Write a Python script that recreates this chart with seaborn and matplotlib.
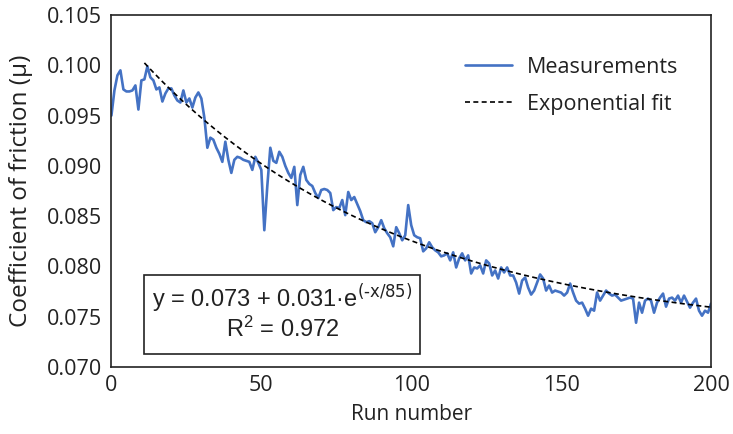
import numpy as np
import pandas as pd
import matplotlib
matplotlib.use("Agg")
import matplotlib.pyplot as plt
from matplotlib.patches import Rectangle
import seaborn as sns

# Friction coefficient measured on each run (run 0 .. 200)
friction = [
    0.0950, 0.0975, 0.0990, 0.0995, 0.0976, 0.0974, 0.0974, 0.0975, 0.0980, 0.0956,
    0.0985, 0.0986, 0.0999, 0.0988, 0.0985, 0.0976, 0.0978, 0.0964, 0.0972, 0.0977,
    0.0977, 0.0970, 0.0965, 0.0963, 0.0975, 0.0963, 0.0967, 0.0958, 0.0968, 0.0973,
    0.0967, 0.0948, 0.0918, 0.0928, 0.0926, 0.0918, 0.0912, 0.0904, 0.0924, 0.0906,
    0.0893, 0.0906, 0.0909, 0.0908, 0.0906, 0.0905, 0.0904, 0.0896, 0.0909, 0.0903,
    0.0896, 0.0836, 0.0880, 0.0918, 0.0905, 0.0903, 0.0914, 0.0909, 0.0900, 0.0893,
    0.0888, 0.0899, 0.0861, 0.0891, 0.0899, 0.0886, 0.0882, 0.0880, 0.0873, 0.0868,
    0.0876, 0.0877, 0.0876, 0.0873, 0.0856, 0.0859, 0.0858, 0.0866, 0.0851, 0.0874,
    0.0866, 0.0869, 0.0862, 0.0855, 0.0846, 0.0844, 0.0845, 0.0843, 0.0834, 0.0839,
    0.0846, 0.0838, 0.0833, 0.0829, 0.0820, 0.0839, 0.0833, 0.0826, 0.0831, 0.0861,
    0.0841, 0.0831, 0.0829, 0.0828, 0.0815, 0.0818, 0.0824, 0.0819, 0.0816, 0.0814,
    0.0810, 0.0811, 0.0813, 0.0806, 0.0814, 0.0799, 0.0808, 0.0813, 0.0806, 0.0811,
    0.0793, 0.0799, 0.0798, 0.0801, 0.0793, 0.0806, 0.0803, 0.0791, 0.0796, 0.0788,
    0.0799, 0.0794, 0.0799, 0.0791, 0.0791, 0.0784, 0.0773, 0.0786, 0.0789, 0.0779,
    0.0772, 0.0776, 0.0784, 0.0792, 0.0788, 0.0776, 0.0781, 0.0774, 0.0776, 0.0775,
    0.0774, 0.0771, 0.0774, 0.0783, 0.0774, 0.0766, 0.0763, 0.0764, 0.0758, 0.0751,
    0.0758, 0.0756, 0.0774, 0.0766, 0.0771, 0.0776, 0.0773, 0.0771, 0.0772, 0.0769,
    0.0766, 0.0767, 0.0768, 0.0769, 0.0768, 0.0744, 0.0764, 0.0754, 0.0766, 0.0768,
    0.0766, 0.0754, 0.0764, 0.0769, 0.0773, 0.0760, 0.0768, 0.0769, 0.0766, 0.0771,
    0.0764, 0.0771, 0.0765, 0.0759, 0.0764, 0.0768, 0.0756, 0.0751, 0.0756, 0.0754,
    0.0763,
]
runs = list(range(len(friction)))

# Exponential fit parameters: y = a + b * exp(-x / tau)
fit_a, fit_b, fit_tau = 0.073, 0.031, 85
fit_start, fit_end = 11, 200
r_squared = 0.972

x_ticks = [0, 50, 100, 150, 200]
y_ticks = [0.070, 0.075, 0.080, 0.085, 0.090, 0.095, 0.100, 0.105]

meas_df = pd.DataFrame({"run": runs, "mu": friction})
fit_runs = np.arange(fit_start, fit_end + 1)
fit_df = pd.DataFrame({"run": fit_runs,
                       "mu": fit_a + fit_b * np.exp(-fit_runs / fit_tau)})

sns.set_theme(style="white")
plt.rcParams["font.family"] = ["Open Sans", "DejaVu Sans"]
plt.rcParams["mathtext.default"] = "regular"

fig = plt.figure(figsize=(7.33, 4.34), dpi=100)
ax = fig.add_axes([0.152, 0.1544, 0.818, 0.811])

ink = "#222222"
blue = "#4472C4"
sns.lineplot(data=meas_df, x="run", y="mu", ax=ax, color=blue, linewidth=1.9,
             label="Measurements")
sns.lineplot(data=fit_df, x="run", y="mu", ax=ax, color="black", linewidth=1.2,
             linestyle=(0, (3.0, 2.0)), label="Exponential fit")

ax.set_xlim(0, 200)
ax.set_ylim(0.070, 0.105)
ax.set_xticks(x_ticks)
ax.set_yticks(y_ticks)
ax.set_xticklabels([str(v) for v in x_ticks])
ax.set_yticklabels([f"{v:.3f}" for v in y_ticks])
ax.tick_params(axis="both", direction="in", length=5, width=1.1, colors=ink,
               labelsize=15.5, labelcolor=ink)
ax.tick_params(axis="x", pad=6)
ax.tick_params(axis="y", pad=7)
for side in ["left", "right", "top", "bottom"]:
    ax.spines[side].set_visible(True)
    ax.spines[side].set_color(ink)
    ax.spines[side].set_linewidth(1.2)

ax.set_xlabel("Run number", fontsize=15, color=ink)
ax.set_ylabel("Coefficient of friction (\u03bc)", fontsize=17.5, color=ink)
ax.yaxis.set_label_coords(-0.131, 0.50)
ax.xaxis.set_label_coords(0.5, -0.105)

leg = ax.legend(loc="upper right", frameon=False, fontsize=15.5,
                handlelength=2.2, handletextpad=0.7, labelspacing=0.75,
                bbox_to_anchor=(0.946, 0.882), borderaxespad=0.0, borderpad=0.0)
for t in leg.get_texts():
    t.set_color(ink)

# Boxed equation of the fit
ax.add_patch(Rectangle((0.054, 0.037), 0.461, 0.224, transform=ax.transAxes,
                       fill=False, edgecolor=ink, linewidth=1.2, zorder=5))
ax.text(0.285, 0.196,
        f"y = {fit_a:.3f} + {fit_b:.3f}\u00b7e$^{{\\text{{(-x/{fit_tau})}}}}$",
        transform=ax.transAxes, ha="center", va="center", fontsize=17,
        family="Liberation Sans", color=ink)
ax.text(0.285, 0.108, f"R$^{{2}}$ = {r_squared:.3f}",
        transform=ax.transAxes, ha="center", va="center", fontsize=17,
        family="Liberation Sans", color=ink)

fig.savefig("out.png", dpi=100, facecolor="white")
